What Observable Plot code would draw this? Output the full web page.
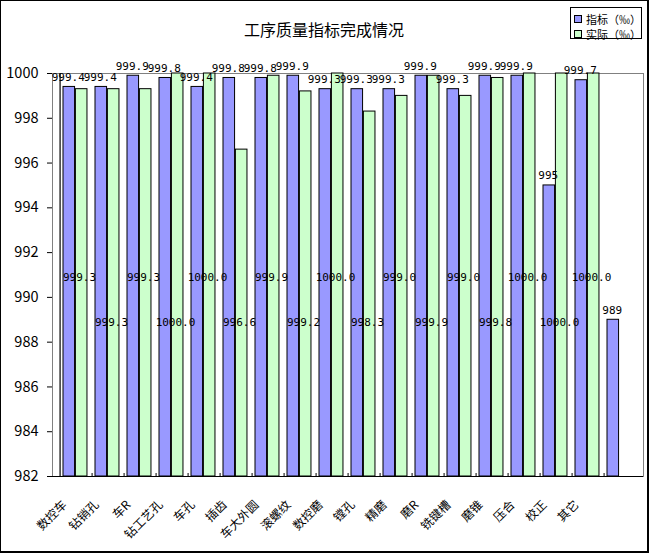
<!DOCTYPE html>
<html>
<head>
<meta charset="utf-8">
<script src="https://cdn.jsdelivr.net/npm/d3@7"></script>
<script src="https://cdn.jsdelivr.net/npm/@observablehq/plot@0.6"></script>
<style>
  body { margin: 0; background: #fff; }
  #wrap { position: relative; width: 650px; height: 553px; font-family: "Noto Sans CJK SC", sans-serif; }
  #border { position: absolute; left: 0; top: 0; width: 649px; height: 553px; box-sizing: border-box;
    border-left: 1px solid #000; border-top: 1px solid #000; border-right: 2px solid #000; border-bottom: 2px solid #000; pointer-events: none; }
  #title { position: absolute; left: 0; top: 17px; width: 648px; text-align: center; font-size: 16px; color: #000; }
  #legend { position: absolute; left: 570px; top: 7px; width: 72px; height: 32px; box-sizing: border-box; border: 1px solid #000; background: #fff; font-size: 11px; }
  .item { position: absolute; left: 3px; display: flex; align-items: center; white-space: nowrap; }
  .sw { width: 6px; height: 6px; border: 1px solid #000; margin-right: 4px; }
</style>
</head>
<body>
<div id="wrap">
  <div id="chart"></div>
  <div id="title">工序质量指标完成情况</div>
  <div id="legend">
    <div class="item" style="top:3px"><div class="sw" style="background:#9999ff"></div>指标（‰）</div>
    <div class="item" style="top:18px"><div class="sw" style="background:#ccffcc"></div>实际（‰）</div>
  </div>
  <div id="border"></div>
</div>
<script>
const categories = ["数控车","钻销孔","车R","钻工艺孔","车孔","插齿","车大外圆","滚螺纹","数控磨","镗孔","精磨","磨R","铣键槽","磨锥","压合","校正","其它",""];
const target = [999.4,999.4,999.9,999.8,999.4,999.8,999.8,999.9,999.3,999.3,999.3,999.9,999.3,999.9,999.9,995,999.7,989];
const actual = [999.3,999.3,999.3,1000.0,1000.0,996.6,999.9,999.2,1000.0,998.3,999.0,999.9,999.0,999.8,1000.0,1000.0,1000.0];
const yTicks = [982,984,986,988,990,992,994,996,998,1000];

const W = 650, H = 553;
const mL = 52, mR = 7, mT = 73, mB = 77;
const step = (W - mL - mR) / categories.length;
const plotH = H - mT - mB;
const pad = 3, bw = 12.4;

const tData = target.map((v, i) => ({cat: categories[i], v, i}));
const aData = actual.map((v, i) => ({cat: categories[i], v, i}));
const labelFont = {fontFamily: "'DejaVu Sans Mono', monospace", fontSize: 11, fill: "#000"};

const chart = Plot.plot({
  width: W, height: H,
  marginLeft: mL, marginRight: mR, marginTop: mT, marginBottom: mB,
  style: {fontFamily: "'Noto Sans CJK SC', sans-serif", color: "#000", background: "transparent"},
  x: {domain: categories, padding: 0, axis: null},
  y: {domain: [982, 1000]},
  marks: [
    Plot.frame({stroke: "#808080"}),
    Plot.barY(tData, {x: "cat", y1: 982, y2: "v", fill: "#9999ff", stroke: "#000", strokeWidth: 1,
      insetLeft: pad, insetRight: step - pad - bw}),
    Plot.barY(aData, {x: "cat", y1: 982, y2: "v", fill: "#ccffcc", stroke: "#000", strokeWidth: 1,
      insetLeft: pad + bw, insetRight: step - pad - 2 * bw}),
    Plot.ruleY([982], {stroke: "#000", strokeWidth: 1.2}),
    Plot.ruleX([categories[0]], {stroke: "#000", strokeWidth: 1.2, dx: -step / 2}),
    Plot.ruleX(categories.slice(1), {stroke: "#000", dx: -step / 2, insetTop: plotH - 3}),
    Plot.axisY({ticks: yTicks, tickSize: 5, tickPadding: 9, fontSize: 14.5, label: null, tickFormat: d => String(d)}),
    Plot.text(categories, {x: d => d, text: d => d, frameAnchor: "bottom", rotate: -45, textAnchor: "end",
      lineAnchor: "bottom", dx: -9, dy: 29, fontSize: 12, fill: "#000"}),
    Plot.text(tData, {x: "cat", y: "v", text: d => String(d.v), dx: pad + bw / 2 - step / 2 - 1, dy: -6,
      lineAnchor: "bottom", ...labelFont}),
    Plot.text(aData.filter(d => d.i % 2 === 0), {x: "cat", text: d => d.v.toFixed(1), frameAnchor: "middle", dx: 3, dy: 2, ...labelFont}),
    Plot.text(aData.filter(d => d.i % 2 === 1), {x: "cat", text: d => d.v.toFixed(1), frameAnchor: "middle", dx: 3, dy: 47, ...labelFont})
  ]
});
document.getElementById("chart").appendChild(chart);
</script>
</body>
</html>
